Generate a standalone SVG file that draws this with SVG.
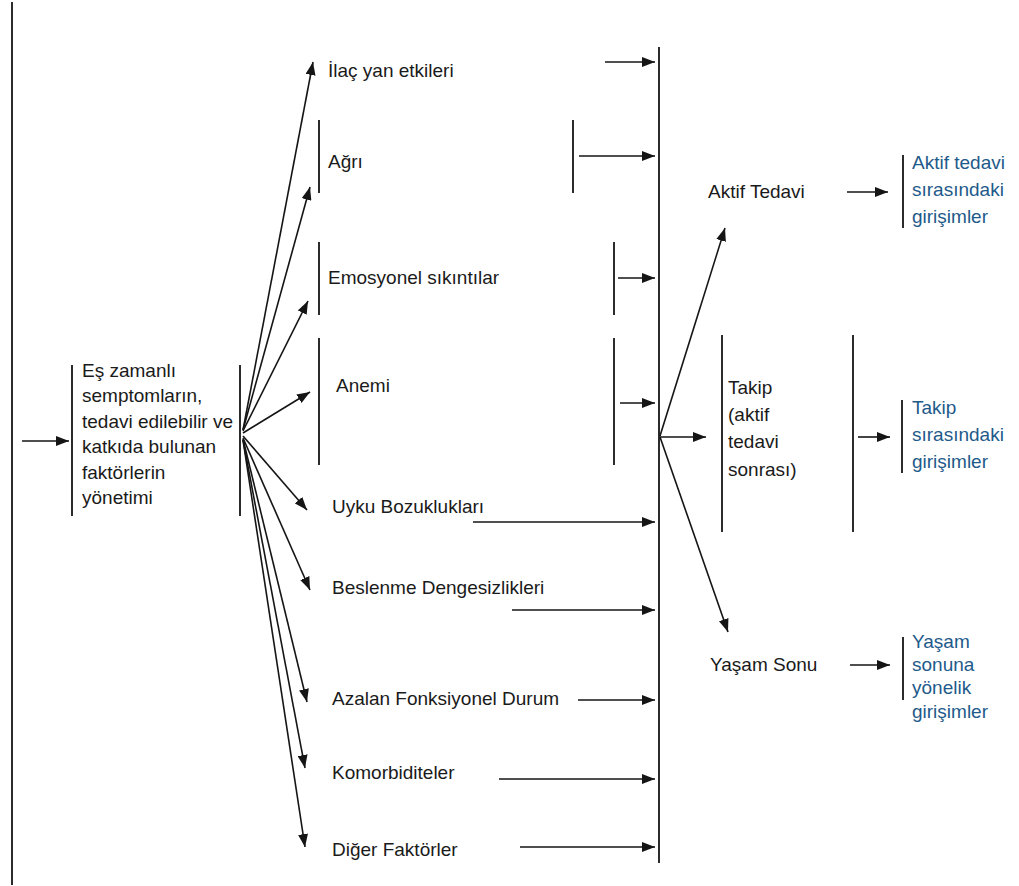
<svg xmlns="http://www.w3.org/2000/svg" width="1019" height="886" viewBox="0 0 1019 886">
<style>
  text { font-family: "Liberation Sans", Arial, sans-serif; font-size: 19px; fill: #1a1a1a; }
  .blue { fill: #1e5a8a; }
  .ln { stroke: #151515; stroke-width: 1.8; fill: none; }
  .ar { stroke: #151515; stroke-width: 1.6; fill: none; marker-end: url(#ah); }
</style>
<defs>
  <marker id="ah" markerUnits="userSpaceOnUse" markerWidth="14" markerHeight="10" refX="13" refY="5" orient="auto">
    <path d="M0,0 L13,5 L0,10 z" fill="#151515"/>
  </marker>
</defs>
<rect width="1019" height="886" fill="#ffffff"/>

<g id="frame">
  <line class="ln" x1="12" y1="2" x2="12" y2="885"/>
  <line class="ln" x1="659" y1="47" x2="659" y2="863"/>
</g>

<g id="connectors">
  <line class="ar" x1="22" y1="441" x2="69" y2="441"/>
  <!-- fan left -->
  <line class="ar" x1="243" y1="430" x2="313" y2="62"/>
  <line class="ar" x1="243" y1="430" x2="310" y2="187"/>
  <line class="ar" x1="243" y1="431" x2="308" y2="301"/>
  <line class="ar" x1="243" y1="433" x2="310" y2="392"/>
  <line class="ar" x1="243" y1="436" x2="307" y2="510"/>
  <line class="ar" x1="243" y1="438" x2="310" y2="590"/>
  <line class="ar" x1="243" y1="439" x2="307" y2="702"/>
  <line class="ar" x1="243" y1="440" x2="305" y2="768"/>
  <line class="ar" x1="243" y1="440" x2="305" y2="847"/>
  <!-- to main line -->
  <line class="ar" x1="605" y1="62" x2="655" y2="62"/>
  <line class="ar" x1="579" y1="156" x2="655" y2="156"/>
  <line class="ar" x1="618" y1="278" x2="655" y2="278"/>
  <line class="ar" x1="620" y1="403" x2="655" y2="403"/>
  <line class="ar" x1="473" y1="522" x2="655" y2="522"/>
  <line class="ar" x1="512" y1="610" x2="655" y2="610"/>
  <line class="ar" x1="578" y1="700" x2="655" y2="700"/>
  <line class="ar" x1="499" y1="779" x2="655" y2="779"/>
  <line class="ar" x1="520" y1="847" x2="655" y2="847"/>
  <!-- fan right -->
  <line class="ar" x1="660" y1="436" x2="725" y2="228"/>
  <line class="ar" x1="660" y1="437" x2="706" y2="437"/>
  <line class="ar" x1="660" y1="437" x2="728" y2="632"/>
  <line class="ar" x1="847" y1="192" x2="888" y2="192"/>
  <line class="ar" x1="858" y1="437" x2="890" y2="437"/>
  <line class="ar" x1="850" y1="665" x2="890" y2="665"/>
</g>

<g id="main">
  <line class="ln" x1="72" y1="365" x2="72" y2="516"/>
  <line class="ln" x1="240" y1="365" x2="240" y2="516"/>
  <text x="82" y="377">Eş zamanlı</text>
  <text x="82" y="402">semptomların,</text>
  <text x="82" y="428">tedavi edilebilir ve</text>
  <text x="82" y="453">katkıda bulunan</text>
  <text x="82" y="479">faktörlerin</text>
  <text x="82" y="504">yönetimi</text>
</g>

<g id="ilac">
  <text x="328" y="77">İlaç yan etkileri</text>
</g>
<g id="agri">
  <line class="ln" x1="319" y1="120" x2="319" y2="193"/>
  <line class="ln" x1="573" y1="120" x2="573" y2="193"/>
  <text x="328" y="168">Ağrı</text>
</g>
<g id="emosyonel">
  <line class="ln" x1="319" y1="242" x2="319" y2="315"/>
  <line class="ln" x1="614" y1="242" x2="614" y2="315"/>
  <text x="328" y="284">Emosyonel sıkıntılar</text>
</g>
<g id="anemi">
  <line class="ln" x1="319" y1="338" x2="319" y2="465"/>
  <line class="ln" x1="614" y1="338" x2="614" y2="465"/>
  <text x="336" y="392">Anemi</text>
</g>
<g id="uyku"><text x="332" y="513">Uyku Bozuklukları</text></g>
<g id="beslenme"><text x="332" y="594">Beslenme Dengesizlikleri</text></g>
<g id="azalan"><text x="332" y="705">Azalan Fonksiyonel Durum</text></g>
<g id="komorbid"><text x="332" y="779">Komorbiditeler</text></g>
<g id="diger"><text x="332" y="856">Diğer Faktörler</text></g>

<g id="aktif">
  <text x="708" y="198">Aktif Tedavi</text>
</g>
<g id="takip">
  <line class="ln" x1="722" y1="335" x2="722" y2="532"/>
  <line class="ln" x1="853" y1="335" x2="853" y2="532"/>
  <text x="728" y="394">Takip</text>
  <text x="728" y="421">(aktif</text>
  <text x="728" y="448">tedavi</text>
  <text x="728" y="476">sonrası)</text>
</g>
<g id="yasam">
  <text x="710" y="671">Yaşam Sonu</text>
</g>

<g id="aktif-girisim">
  <line class="ln" x1="903" y1="155" x2="903" y2="228"/>
  <text class="blue" x="912" y="169">Aktif tedavi</text>
  <text class="blue" x="912" y="196">sırasındaki</text>
  <text class="blue" x="912" y="223">girişimler</text>
</g>
<g id="takip-girisim">
  <line class="ln" x1="902" y1="400" x2="902" y2="473"/>
  <text class="blue" x="912" y="414">Takip</text>
  <text class="blue" x="912" y="441">sırasındaki</text>
  <text class="blue" x="912" y="468">girişimler</text>
</g>
<g id="yasam-girisim">
  <line class="ln" x1="903" y1="637" x2="903" y2="700"/>
  <text class="blue" x="912" y="648">Yaşam</text>
  <text class="blue" x="912" y="671">sonuna</text>
  <text class="blue" x="912" y="694">yönelik</text>
  <text class="blue" x="912" y="718">girişimler</text>
</g>
</svg>
